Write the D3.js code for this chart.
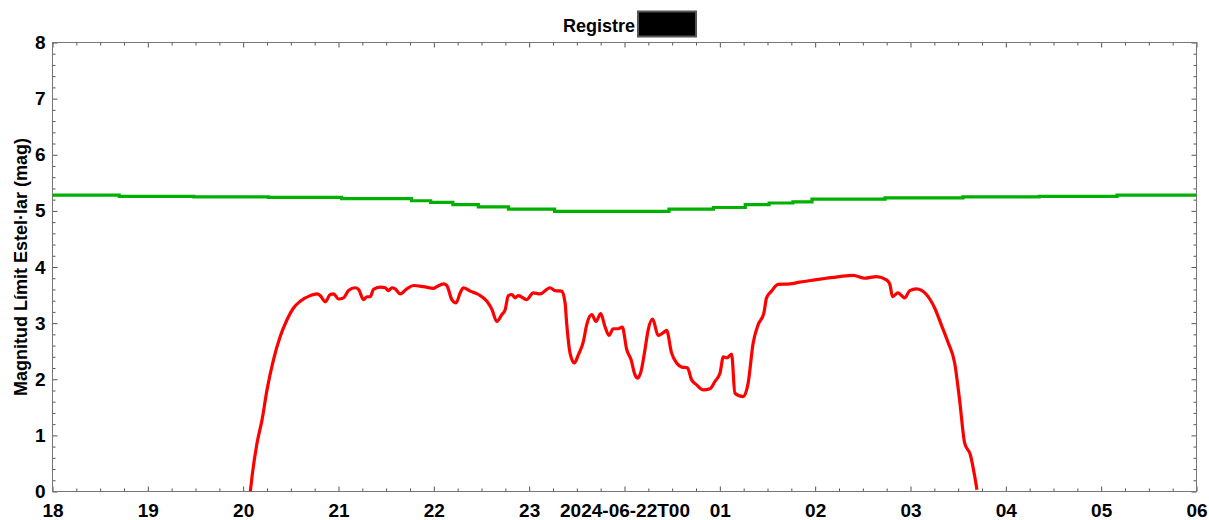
<!DOCTYPE html>
<html>
<head>
<meta charset="utf-8">
<script src="https://cdn.jsdelivr.net/npm/d3@7"></script>
<style>
  html, body { margin: 0; padding: 0; background: #ffffff; }
  svg { display: block; font-family: "Liberation Sans", Arial, sans-serif; }
</style>
</head>
<body>
<svg id="chart" width="1209" height="520"></svg>
<script>
// Observation night start (UTC) and time offsets in minutes from it
const nightStart = Date.UTC(2024, 5, 21, 18, 0);
const nightEnd = Date.UTC(2024, 5, 22, 6, 0);

// Measured limiting magnitude (red)
const measuredMinutes = [124.5, 125.6, 128.7, 131.9, 135.0, 139.1, 143.3, 147.6, 151.7, 155.9,
  162.2, 166.4, 168.5, 171.7, 174.8, 176.9, 180.0, 183.2, 186.3, 190.5,
  192.6, 195.8, 197.9, 200.0, 202.0, 206.2, 209.4, 211.4, 213.6, 215.7,
  218.8, 223.0, 227.2, 233.5, 239.8, 241.9, 246.1, 248.2, 251.3, 254.0,
  256.6, 258.6, 262.9, 268.1, 273.4, 276.5, 279.6, 282.8, 284.9, 286.9,
  289.1, 291.1, 293.2, 298.5, 302.6, 306.8, 313.1, 316.3, 320.5, 322.6,
  323.6, 325.7, 328.4, 331.0, 334.1, 336.2, 339.4, 342.1, 345.0, 347.7,
  350.2, 352.9, 356.1, 358.6, 361.4, 364.1, 366.6, 368.3, 370.4, 372.9,
  374.9, 377.7, 381.2, 384.4, 386.5, 389.6, 392.8, 395.9, 399.7, 402.2,
  405.4, 409.6, 413.8, 416.9, 420.1, 422.2, 424.4, 427.4, 429.5, 434.7,
  437.8, 441.0, 444.1, 447.7, 449.4, 452.5, 456.7, 464.0, 470.3, 479.8,
  487.1, 495.5, 503.9, 511.2, 518.6, 524.9, 527.0, 528.7, 532.1, 536.4,
  539.5, 543.7, 550.0, 555.2, 559.4, 563.6, 567.8, 570.9, 574.1, 577.7,
  580.4, 581.8];
const measuredMag = [0.00, 0.27, 0.86, 1.28, 1.81, 2.35, 2.76, 3.06, 3.27, 3.39,
  3.49, 3.52, 3.49, 3.38, 3.51, 3.52, 3.43, 3.45, 3.58, 3.63,
  3.60, 3.42, 3.47, 3.47, 3.60, 3.64, 3.63, 3.58, 3.63, 3.61,
  3.52, 3.61, 3.67, 3.65, 3.62, 3.65, 3.70, 3.67, 3.42, 3.36,
  3.54, 3.63, 3.57, 3.51, 3.39, 3.25, 3.03, 3.15, 3.24, 3.49,
  3.51, 3.45, 3.49, 3.42, 3.54, 3.52, 3.63, 3.58, 3.57, 3.36,
  3.00, 2.47, 2.29, 2.44, 2.67, 2.97, 3.15, 3.03, 3.17, 2.94,
  2.78, 2.90, 2.90, 2.93, 2.53, 2.35, 2.08, 2.02, 2.14, 2.53,
  2.88, 3.07, 2.78, 2.83, 2.87, 2.47, 2.29, 2.22, 2.20, 1.99,
  1.90, 1.81, 1.83, 1.96, 2.11, 2.40, 2.38, 2.45, 1.75, 1.69,
  1.93, 2.65, 2.97, 3.18, 3.45, 3.57, 3.69, 3.70, 3.73, 3.77,
  3.80, 3.83, 3.85, 3.80, 3.83, 3.77, 3.69, 3.47, 3.54, 3.45,
  3.58, 3.61, 3.51, 3.27, 2.97, 2.66, 2.29, 1.63, 0.86, 0.65,
  0.27, 0.03];

// Reference limiting magnitude (green), stepwise
const referenceMinutes = [0, 42, 89, 136, 182, 226, 238, 252, 268, 287, 316,
  388, 416, 436, 451, 466, 478, 524, 573, 621, 670, 720];
const referenceMag = [5.28, 5.26, 5.25, 5.24, 5.22, 5.18, 5.15, 5.11, 5.07, 5.03, 4.99,
  5.03, 5.06, 5.11, 5.14, 5.16, 5.21, 5.23, 5.25, 5.26, 5.28, 5.28];

const yTicks = [0, 1, 2, 3, 4, 5, 6, 7, 8];
const titleText = "Registre";
const yLabelText = "Magnitud Límit Estel·lar (mag)";

const toDate = m => new Date(nightStart + m * 60000);
const measured = measuredMinutes.map((m, i) => ({ t: toDate(m), v: measuredMag[i] }));
const reference = referenceMinutes.map((m, i) => ({ t: toDate(m), v: referenceMag[i] }));

const svg = d3.select("#chart");
const plotLeft = 52.5, plotRight = 1196.5, plotTop = 42.5, plotBottom = 491.5;

const x = d3.scaleUtc().domain([new Date(nightStart), new Date(nightEnd)]).range([plotLeft, plotRight]);
const y = d3.scaleLinear().domain([0, 8]).range([plotBottom, plotTop]);

const hourFmt = d3.utcFormat("%H");
const midFmt = d3.utcFormat("%Y-%m-%dT%H");
const fmtTime = d => (d.getUTCHours() === 0 ? midFmt(d) : hourFmt(d));

const hours = x.ticks(d3.utcHour.every(1));
const quarters = x.ticks(d3.utcMinute.every(15)).filter(d => d.getUTCMinutes() !== 0);
const minorY = d3.range(0, 8.0001, 0.2).map(v => +v.toFixed(1)).filter(v => !yTicks.includes(v));

const tickColor = "#555";

function styleAxis(g) {
  g.select(".domain").remove();
  g.selectAll(".tick line").attr("stroke", tickColor);
  g.selectAll(".tick text")
    .attr("fill", "#000")
    .style("font-size", "19px")
    .style("font-weight", "bold");
}

// Minor ticks (all four sides)
svg.append("g").attr("transform", `translate(0,${plotBottom})`)
  .call(d3.axisBottom(x).tickValues(quarters).tickSize(-3).tickFormat(""))
  .call(styleAxis);
svg.append("g").attr("transform", `translate(0,${plotTop})`)
  .call(d3.axisTop(x).tickValues(quarters).tickSize(-3).tickFormat(""))
  .call(styleAxis);
svg.append("g").attr("transform", `translate(${plotLeft},0)`)
  .call(d3.axisLeft(y).tickValues(minorY).tickSize(-3).tickFormat(""))
  .call(styleAxis);
svg.append("g").attr("transform", `translate(${plotRight},0)`)
  .call(d3.axisRight(y).tickValues(minorY).tickSize(-3).tickFormat(""))
  .call(styleAxis);

// Major ticks with labels
svg.append("g").attr("transform", `translate(0,${plotBottom})`)
  .call(d3.axisBottom(x).tickValues(hours).tickSize(-5).tickPadding(12).tickFormat(fmtTime))
  .call(styleAxis);
svg.append("g").attr("transform", `translate(0,${plotTop})`)
  .call(d3.axisTop(x).tickValues(hours).tickSize(-5).tickFormat(""))
  .call(styleAxis);
svg.append("g").attr("transform", `translate(${plotLeft},0)`)
  .call(d3.axisLeft(y).tickValues(yTicks).tickSize(-5).tickPadding(7).tickFormat(d3.format("d")))
  .call(styleAxis);
svg.append("g").attr("transform", `translate(${plotRight},0)`)
  .call(d3.axisRight(y).tickValues(yTicks).tickSize(-5).tickFormat(""))
  .call(styleAxis);

// Plot frame
svg.append("rect")
  .attr("x", plotLeft).attr("y", plotTop)
  .attr("width", plotRight - plotLeft).attr("height", plotBottom - plotTop)
  .attr("fill", "none").attr("stroke", "#777").attr("stroke-width", 1);

svg.append("clipPath").attr("id", "plot-clip")
  .append("rect").attr("x", plotLeft).attr("y", plotTop - 2)
  .attr("width", plotRight - plotLeft).attr("height", plotBottom - plotTop + 2);

const plot = svg.append("g").attr("clip-path", "url(#plot-clip)");

const stepLine = d3.line().x(d => x(d.t)).y(d => y(d.v)).curve(d3.curveStepAfter);
plot.append("path").datum(reference)
  .attr("d", stepLine)
  .attr("fill", "none").attr("stroke", "#00b000").attr("stroke-width", 3.2);

const line = d3.line().x(d => x(d.t)).y(d => y(d.v)).curve(d3.curveMonotoneX);
plot.append("path").datum(measured)
  .attr("d", line)
  .attr("fill", "none").attr("stroke", "#ff0000").attr("stroke-width", 3.2)
  .attr("stroke-linejoin", "round");

// Title with masked identifier
svg.append("text")
  .attr("x", 635).attr("y", 31.5)
  .attr("text-anchor", "end")
  .style("font-size", "18px").style("font-weight", "bold")
  .text(titleText);
svg.append("rect")
  .attr("x", 638).attr("y", 11.5).attr("width", 58).attr("height", 25)
  .attr("fill", "#000").attr("stroke", "#555").attr("stroke-width", 2);

// Y axis title
svg.append("text")
  .attr("transform", `translate(27,${(plotTop + plotBottom) / 2}) rotate(-90)`)
  .attr("text-anchor", "middle")
  .style("font-size", "18px").style("font-weight", "bold")
  .text(yLabelText);
</script>
</body>
</html>
